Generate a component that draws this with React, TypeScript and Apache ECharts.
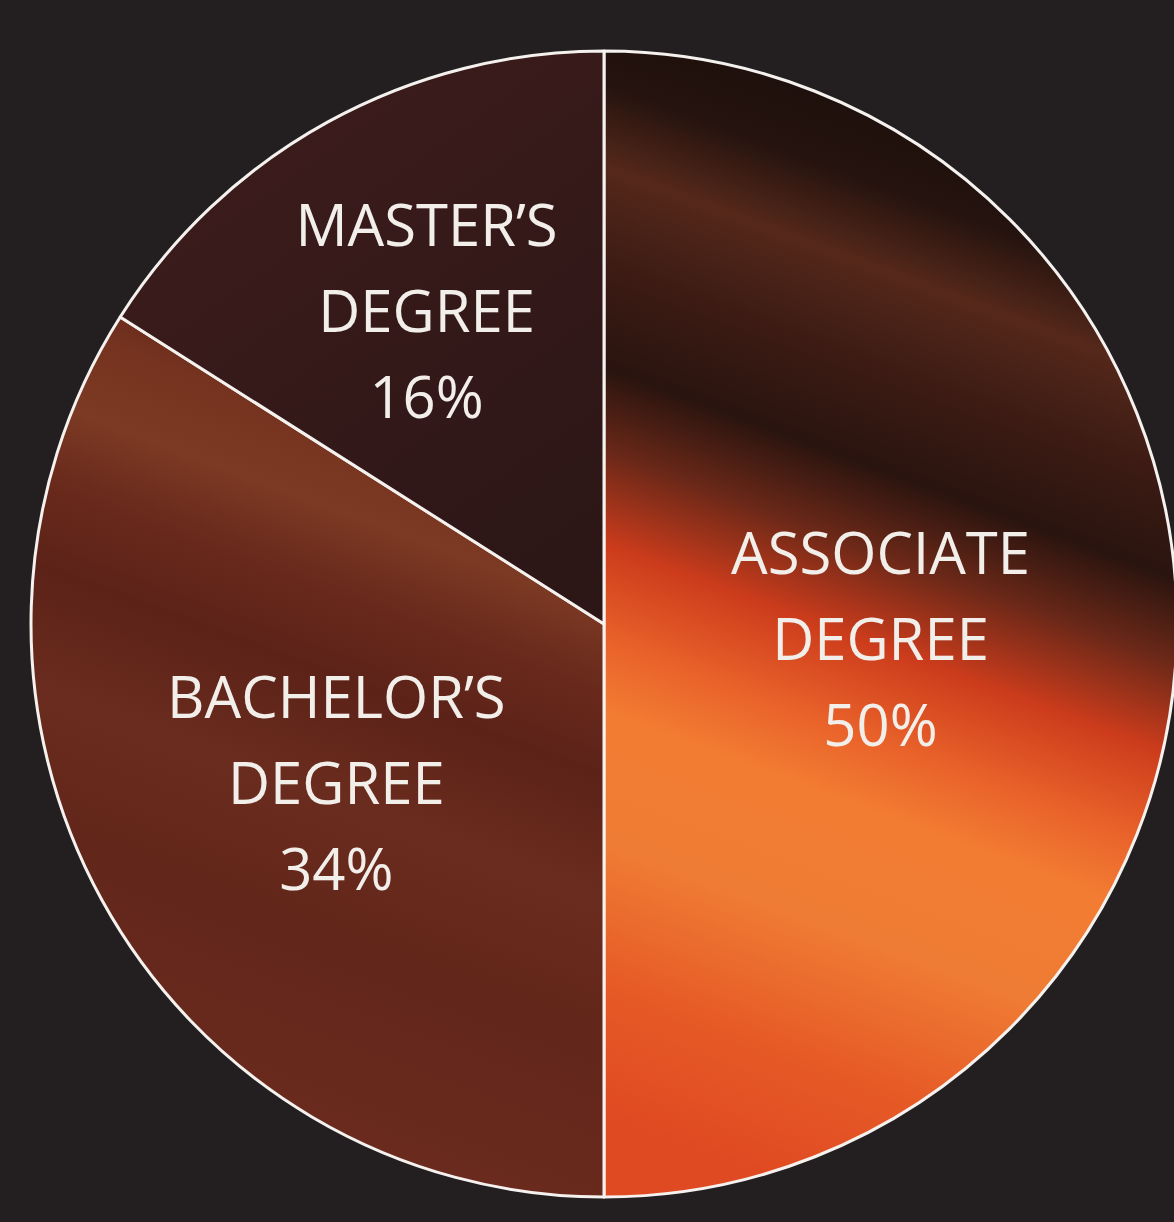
import React, { useEffect, useRef } from "react";
import * as echarts from "echarts";

const categories = ["ASSOCIATE\nDEGREE", "BACHELOR’S\nDEGREE", "MASTER’S\nDEGREE"];
const values = [50, 34, 16];
const percentLabels = ["50%", "34%", "16%"];

const fills = [
  new echarts.graphic.LinearGradient(0.185, 0, 0, 1, [
    { offset: 0, color: "#1e100c" },
    { offset: 0.06, color: "#25130f" },
    { offset: 0.13, color: "#55281a" },
    { offset: 0.215, color: "#3c1b14" },
    { offset: 0.3, color: "#2a140f" },
    { offset: 0.37, color: "#6a2818" },
    { offset: 0.45, color: "#cc3c1c" },
    { offset: 0.53, color: "#e9622a" },
    { offset: 0.59, color: "#f27c32" },
    { offset: 0.7, color: "#ef7c34" },
    { offset: 0.82, color: "#e65a26" },
    { offset: 0.93, color: "#e04a22" },
    { offset: 1, color: "#e04a22" },
  ]),
  new echarts.graphic.LinearGradient(0.242, 0, 0, 1, [
    { offset: 0, color: "#6a2a1c" },
    { offset: 0.06, color: "#763420" },
    { offset: 0.14, color: "#7c3a24" },
    { offset: 0.22, color: "#6a2a1c" },
    { offset: 0.32, color: "#5c2218" },
    { offset: 0.45, color: "#6a2c1e" },
    { offset: 0.6, color: "#62261a" },
    { offset: 0.8, color: "#6a2a1e" },
    { offset: 1, color: "#6e2c1e" },
  ]),
  new echarts.graphic.LinearGradient(0.2, 0, 0.8, 1, [
    { offset: 0, color: "#3e1d1c" },
    { offset: 0.5, color: "#351919" },
    { offset: 1, color: "#2c1616" },
  ]),
];

const labelShifts = [
  [-13, 13],
  [-14, 18],
  [-38, -61],
];

export default function App() {
  const ref = useRef<HTMLDivElement>(null);
  useEffect(() => {
    document.body.style.margin = "0";
    const chart = echarts.init(ref.current!, null, { renderer: "svg" });
    chart.setOption({
      animation: false,
      backgroundColor: "#231f20",
      series: [
        {
          type: "pie",
          center: [604, 624],
          radius: 573,
          startAngle: 90,
          clockwise: true,
          avoidLabelOverlap: false,
          data: categories.map((name, i) => ({
            name,
            value: values[i],
            itemStyle: { color: fills[i] },
          })),
          itemStyle: { borderColor: "#f4f1ee", borderWidth: 3 },
          label: {
            show: true,
            position: "inside",
            formatter: (p: any) => `${p.name}\n${percentLabels[p.dataIndex]}`,
            color: "#f2eeea",
            fontFamily: "Open Sans",
            fontSize: 58,
            lineHeight: 86,
            align: "center",
          },
          labelLine: { show: false },
          labelLayout: (p: any) => ({
            dx: labelShifts[p.dataIndex][0],
            dy: labelShifts[p.dataIndex][1],
          }),
          emphasis: { disabled: true },
        },
      ],
    });
    return () => chart.dispose();
  }, []);
  return <div ref={ref} style={{ width: 1174, height: 1222 }} />;
}
